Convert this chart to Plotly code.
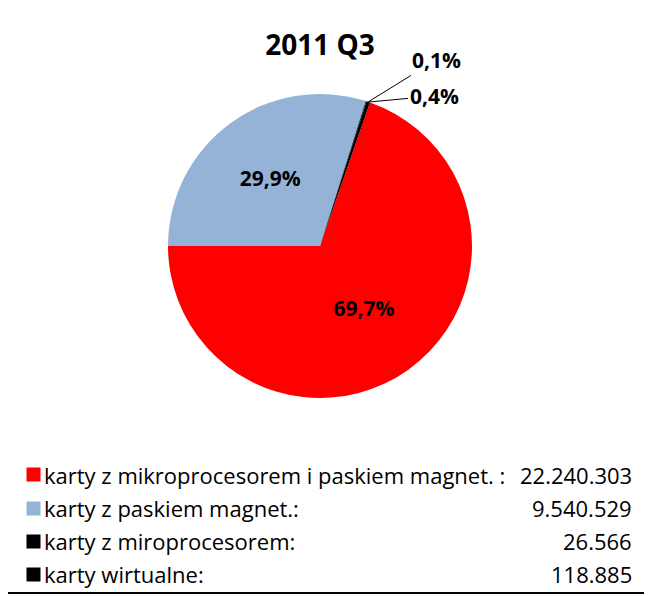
import plotly.graph_objects as go

labels = ["karty z mikroprocesorem i paskiem magnet. :",
          "karty z paskiem magnet.:",
          "karty z miroprocesorem:",
          "karty wirtualne:"]
values = [22240303, 9540529, 26566, 118885]
colors = ["#FF0000", "#95B3D7", "#000000", "#000000"]
title = "2011 Q3"

W, H = 652, 596
OFF = 8  # page body margin, coordinates below are in screen pixels
FONT = "Open Sans"


def fx(x):
    return (x - OFF) / W


def fy(y):
    return 1 - (y - OFF) / H


total = sum(values)
pct = [f"{v / total * 100:.1f}%".replace(".", ",") for v in values]
big = [v / total > 0.05 for v in values]

fig = go.Figure(go.Pie(
    labels=labels,
    values=values,
    text=pct,
    textinfo="text",
    textposition=["inside" if b else "none" for b in big],
    insidetextorientation="horizontal",
    textfont=dict(family=FONT, size=21, color="black", weight="bold"),
    marker=dict(colors=colors, line=dict(width=0)),
    sort=False,
    direction="clockwise",
    rotation=19.2,
    domain=dict(x=[fx(168), fx(472)], y=[fy(398), fy(94)]),
    hoverinfo="label+value+percent",
    showlegend=False,
))

# small slices get leader lines like in the original
small_pos = [(368, 102, 436, 60), (369, 102, 434, 96)]
small = [i for i, b in enumerate(big) if not b]
for (px, py, tx, ty), i in zip(small_pos, small):
    fig.add_annotation(
        x=fx(px), y=fy(py), xref="paper", yref="paper",
        ax=tx - px, ay=ty - py,
        text=pct[i], showarrow=True, arrowhead=0, arrowwidth=1,
        arrowcolor="black", standoff=0,
        font=dict(family=FONT, size=21, color="black", weight="bold"),
    )

# legend drawn as a table: colour key, label, value right aligned
row_y = [475, 508, 541, 574]
for lab, v, c, y in zip(labels, values, colors, row_y):
    fig.add_annotation(
        x=fx(26), y=fy(y), xref="paper", yref="paper",
        xanchor="left", yanchor="middle", showarrow=False,
        text="", width=13, height=13, bgcolor=c, borderpad=0,
    )
    fig.add_annotation(
        x=fx(42), y=fy(y), xref="paper", yref="paper",
        xanchor="left", yanchor="middle", showarrow=False,
        text=lab, font=dict(family=FONT, size=22, color="black"),
    )
    fig.add_annotation(
        x=fx(634), y=fy(y), xref="paper", yref="paper",
        xanchor="right", yanchor="middle", showarrow=False,
        text=f"{v:,}".replace(",", "."),
        font=dict(family=FONT, size=22, color="black"),
    )

fig.add_shape(type="line", xref="paper", yref="paper",
              x0=0, x1=1, y0=fy(593), y1=fy(593),
              line=dict(color="black", width=2))

fig.update_layout(
    width=W, height=H,
    margin=dict(l=0, r=0, t=0, b=0),
    paper_bgcolor="white",
    plot_bgcolor="white",
    separators=",.",
    title=dict(text=title, x=fx(320), y=fy(45), xanchor="center", yanchor="middle",
               font=dict(family=FONT, size=28, color="black", weight="bold")),
    showlegend=False,
)

fig.write_html("out.html")
